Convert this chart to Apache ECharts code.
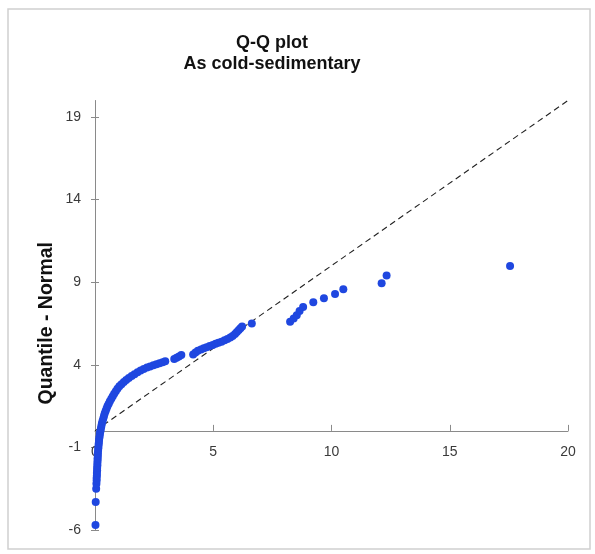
<!DOCTYPE html>
<html>
<head>
<meta charset="utf-8">
<script src="https://cdn.jsdelivr.net/npm/echarts@6/dist/echarts.min.js"></script>
<style>html,body{margin:0;padding:0;background:#fff}#c{width:595px;height:554px}</style>
</head>
<body>
<div id="c"></div>
<script>
// Observed data values (x = sample value, y = normal quantile)
const obsX = [0.02,0.03,0.05,0.06,0.07,0.07,0.08,0.08,0.09,0.09,0.10,0.10,0.11,0.11,0.12,0.12,0.13,0.14,0.15,0.16,0.17,0.18,0.20,0.21,0.23,0.25,0.27,0.29,0.32,0.35,0.38,0.41,0.45,0.49,0.53,0.58,0.63,0.69,0.75,0.81,0.88,0.95,1.03,1.12,1.22,1.32,1.43,1.55,1.67,1.80,1.93,2.06,2.20,2.33,2.47,2.60,2.73,2.86,2.97,3.35,3.45,3.55,3.65,4.15,4.25,4.35,4.48,4.60,4.72,4.85,4.98,5.10,5.22,5.35,5.48,5.60,5.72,5.82,5.92,6.00,6.08,6.15,6.22,6.63,8.25,8.40,8.53,8.65,8.80,9.23,9.68,10.15,10.50,12.12,12.33,17.55];
const obsY = [-5.7,-4.3,-3.5,-3.2,-3.0,-2.85,-2.7,-2.55,-2.4,-2.25,-2.1,-1.95,-1.8,-1.65,-1.5,-1.35,-1.2,-1.05,-0.9,-0.75,-0.6,-0.45,-0.3,-0.15,0.0,0.15,0.3,0.45,0.6,0.75,0.9,1.05,1.2,1.35,1.5,1.65,1.8,1.95,2.1,2.25,2.4,2.55,2.7,2.83,2.96,3.08,3.2,3.32,3.43,3.55,3.65,3.74,3.83,3.9,3.97,4.04,4.1,4.16,4.22,4.35,4.42,4.5,4.6,4.62,4.75,4.85,4.93,5.0,5.07,5.14,5.2,5.27,5.33,5.4,5.48,5.56,5.65,5.75,5.87,5.98,6.1,6.22,6.32,6.5,6.6,6.8,7.0,7.25,7.5,7.78,8.03,8.29,8.57,8.93,9.4,9.98];
// Reference 1:1 line endpoints
const refLineX = [0, 20];
const refLineY = [0, 20];
// Axis ticks
const xTicks = [0, 5, 10, 15, 20];
const yTicks = [-6, -1, 4, 9, 14, 19];
const yMin = -6, yMax = 20;

const titleText = 'Q-Q plot\nAs cold-sedimentary';
const yName = 'Quantile - Normal';

const pts = obsX.map((x, i) => [x, obsY[i]]);
const linePts = refLineX.map((x, i) => [x, refLineY[i]]);

const W = 595, H = 554;
const gridTop = 100.5, gridBottom = 24;
const plotH = H - gridTop - gridBottom;
// shift x-axis up so it sits on y = 0 (axis crossing)
const xAxisOffset = -plotH * (0 - yMin) / (yMax - yMin);

const chart = echarts.init(document.getElementById('c'), null, {renderer: 'canvas'});
const axisCol = '#8a8a8a';
const labCol = '#3a3a3a';
chart.setOption({
  backgroundColor: '#fff',
  animation: false,
  graphic: [{
    type: 'rect', shape: {x: 8, y: 9, width: 582, height: 540},
    style: {fill: 'none', stroke: '#d0d0d0', lineWidth: 1.5}, silent: true, z: -1
  }],
  title: {
    text: titleText, left: 267, top: 28, textAlign: 'center',
    textStyle: {fontFamily: 'Liberation Sans, Arial', fontSize: 18, fontWeight: 'bold', color: '#111', lineHeight: 21}
  },
  grid: {left: 95, right: 27, top: gridTop, bottom: gridBottom, containLabel: false},
  xAxis: {
    type: 'value', min: xTicks[0], max: xTicks[xTicks.length - 1], interval: 5,
    position: 'bottom', offset: xAxisOffset,
    splitLine: {show: false},
    axisLine: {onZero: false, lineStyle: {color: axisCol, width: 1}},
    axisTick: {inside: true, length: 6, lineStyle: {color: axisCol}},
    axisLabel: {margin: 14, color: labCol, fontFamily: 'Liberation Sans, Arial', fontSize: 14}
  },
  yAxis: [{
    type: 'value', min: yMin, max: yMax, interval: 5,
    splitLine: {show: false},
    name: yName, nameLocation: 'middle', nameGap: 38, nameRotate: 90, nameMoveOverlap: false,
    nameTextStyle: {fontFamily: 'Liberation Sans, Arial', fontSize: 19.5, fontWeight: 'bold', color: '#111', padding: [0, 16, 0, 0]},
    axisLine: {show: true, onZero: false, lineStyle: {color: axisCol, width: 1}},
    axisTick: {show: true, length: 4, lineStyle: {color: axisCol}, customValues: yTicks},
    axisLabel: {margin: 14, color: labCol, fontFamily: 'Liberation Sans, Arial', fontSize: 14,
      customValues: yTicks}
  }, {
    type: 'value', min: yMin, max: yMax, interval: 5, position: 'left',
    splitLine: {show: false},
    axisLine: {show: false},
    axisTick: {show: true, inside: true, length: 4, lineStyle: {color: axisCol}, customValues: yTicks},
    axisLabel: {show: false}
  }],
  series: [{
    type: 'line', data: linePts, yAxisIndex: 0, symbol: 'none', silent: true, z: 1,
    lineStyle: {color: '#222', width: 1.1, type: [6, 4]}
  }, {
    type: 'scatter', data: pts, yAxisIndex: 0, symbol: 'circle', symbolSize: 8, z: 2,
    itemStyle: {color: '#1f47e0', opacity: 1}
  }]
});
</script>
</body>
</html>
